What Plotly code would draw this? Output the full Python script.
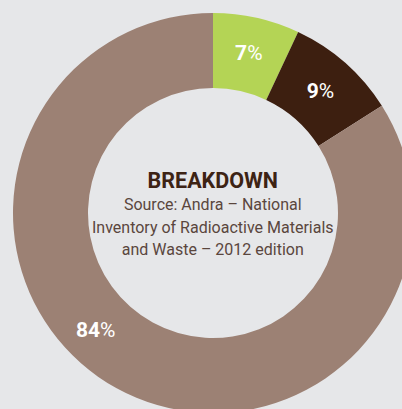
import math
import plotly.graph_objects as go

categories = ["Category A", "Category B", "Category C"]
values = [7, 9, 84]
colors = ["#b4d455", "#3d1f10", "#9c8174"]

title_text = "BREAKDOWN"
subtitle_lines = ["Source: Andra – National", "Inventory of Radioactive Materials", "and Waste – 2012 edition"]

W = 426
R_OUT = 200
CX = CY = 213

templates = ["<b>%{value}</b>%", "<b>%{value}</b>%", ""]

fig = go.Figure(go.Pie(
    labels=categories,
    values=values,
    sort=False,
    direction="clockwise",
    rotation=0,
    hole=0.625,
    marker=dict(colors=colors, line=dict(width=0)),
    texttemplate=templates,
    textposition="inside",
    insidetextorientation="horizontal",
    insidetextfont=dict(family="Roboto", size=21, color="white"),
    hoverinfo="label+percent",
    domain=dict(x=[(CX - R_OUT) / W, (CX + R_OUT) / W], y=[(CY - R_OUT) / W, (CY + R_OUT) / W]),
))

# label for the large slice, placed in its lower-left part of the ring
ang = math.radians(225)
lr = 165
fig.add_annotation(
    x=(CX + lr * math.sin(ang)) / W, y=1 - (CY - lr * math.cos(ang)) / W,
    xref="paper", yref="paper", showarrow=False,
    xanchor="center", yanchor="middle",
    text=f"<b>{values[2]}</b>%",
    font=dict(family="Roboto", size=21, color="white"),
)

sub = "<br>".join(f"<span style='font-size:16px'>{s}</span>" for s in subtitle_lines)
fig.add_annotation(
    x=0.5, y=0.5, xref="paper", yref="paper", showarrow=False,
    xanchor="center", yanchor="middle",
    text=f"<b><span style='font-size:21.5px;color:#3d2314'>{title_text}</span></b><br>" + sub,
    font=dict(family="Roboto", size=17.3, color="#5a463d"),
    align="center",
)

fig.update_layout(
    width=W, height=W,
    margin=dict(l=0, r=0, t=0, b=0),
    paper_bgcolor="#e6e7e9",
    plot_bgcolor="#e6e7e9",
    showlegend=False,
    uniformtext=dict(mode="show", minsize=21),
)
fig.write_html("out.html")
